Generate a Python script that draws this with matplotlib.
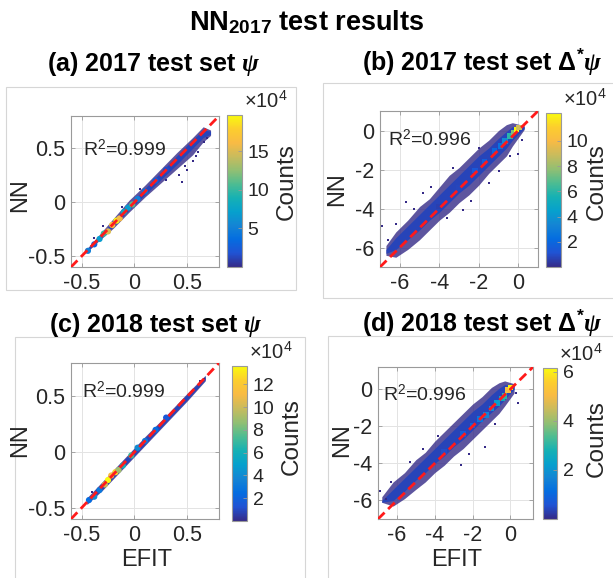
import matplotlib
matplotlib.use("Agg")
import matplotlib.pyplot as plt
from matplotlib.cm import ScalarMappable
from matplotlib.colors import LinearSegmentedColormap, Normalize
from matplotlib.patches import Rectangle

plt.rcParams.update({
    "font.family": ["Liberation Sans", "DejaVu Sans"],
    "mathtext.fontset": "custom",
    "mathtext.rm": "Liberation Sans",
    "mathtext.it": "Liberation Serif:italic:bold",
    "mathtext.bf": "Liberation Sans:bold",
    "axes.unicode_minus": False,
})

# parula-like colormap
PARULA = [
    (0.2081, 0.1663, 0.5292), (0.1253, 0.3242, 0.8303), (0.0165, 0.4266, 0.8786),
    (0.0793, 0.5200, 0.8312), (0.0239, 0.6287, 0.8038), (0.0843, 0.6928, 0.7062),
    (0.3022, 0.7376, 0.5712), (0.5709, 0.7485, 0.4494), (0.7858, 0.7356, 0.3633),
    (0.9739, 0.7314, 0.2666), (0.9880, 0.8066, 0.1794), (0.9763, 0.9831, 0.0538),
]
parula = LinearSegmentedColormap.from_list("parula", PARULA)

# ---- (a) 2017 test set psi ----
a_efit = [-0.46, -0.35, -0.2, -0.05, 0.1, 0.25, 0.4, 0.55, 0.65, 0.72]
a_hi = [-0.44, -0.32, -0.15, 0.02, 0.16, 0.31, 0.46, 0.60, 0.70, 0.67]
a_lo = [-0.47, -0.37, -0.24, -0.09, 0.05, 0.18, 0.31, 0.44, 0.56, 0.62]
a_in_hi = [-0.45, -0.33, -0.18, -0.02, 0.13, 0.28, 0.43, 0.58, 0.67, 0.66]
a_in_lo = [-0.47, -0.36, -0.22, -0.07, 0.07, 0.21, 0.35, 0.50, 0.60, 0.63]
a_bin_x = [-0.44, -0.38, -0.33, -0.29, -0.25, -0.21, -0.17, -0.14, -0.1, -0.06, -0.02, 0.03, 0.1, 0.2, 0.3]
a_bin_y = [-0.45, -0.39, -0.34, -0.29, -0.27, -0.21, -0.17, -0.15, -0.09, -0.05, -0.02, 0.03, 0.1, 0.2, 0.3]
a_bin_c = [5, 3, 7, 10, 15, 17, 19.6, 16, 8, 7, 11, 5, 4, 2.5, 1.5]
a_out_x = [0.42, 0.45, 0.5, 0.55, 0.6, 0.66, -0.3, -0.38, 0.3, 0.48, 0.58, 0.69, -0.12, 0.05]
a_out_y = [0.25, 0.19, 0.3, 0.38, 0.47, 0.56, -0.22, -0.33, 0.21, 0.34, 0.43, 0.6, -0.04, 0.12]
a_r2 = "0.999"
a_cmax = 19.7
a_cticks = [5, 10, 15]

# ---- (b) 2017 test set Delta* psi ----
b_efit = [-6.7, -6.2, -5.6, -5.0, -4.5, -4.0, -3.5, -3.0, -2.5, -2.0, -1.5, -1.0, -0.6, -0.3, 0.3]
b_hi = [-5.9, -5.2, -4.6, -3.9, -3.5, -2.9, -2.3, -1.9, -1.4, -0.9, -0.5, 0.0, 0.3, 0.4, 0.25]
b_lo = [-6.4, -6.5, -6.1, -5.6, -5.1, -4.6, -4.2, -3.7, -3.3, -2.8, -2.2, -1.7, -1.3, -0.8, 0.05]
b_in_hi = [-6.1, -5.5, -4.9, -4.3, -3.8, -3.3, -2.8, -2.3, -1.8, -1.3, -0.9, -0.4, -0.05, 0.2, 0.2]
b_in_lo = [-6.3, -6.1, -5.6, -5.1, -4.6, -4.2, -3.7, -3.2, -2.8, -2.3, -1.8, -1.3, -0.9, -0.5, 0.1]
b_bin_x = [-4.0, -3.0, -2.2, -1.7, -1.2, -0.9, -0.68, -0.43, -0.25, -0.08, 0.05]
b_bin_y = [-3.9, -2.95, -2.05, -1.6, -1.05, -0.8, -0.55, -0.29, -0.1, 0.05, 0.15]
b_bin_c = [0.6, 0.8, 1.3, 1.6, 2.0, 2.5, 3.5, 6.0, 7.5, 12.2, 9.0]
b_out_x = [-6.9, -5.7, -4.8, -2.8, -1.5, 0.0, -6.6, -4.4, -2.4, -0.4, -6.2, -5.3, -3.6, -3.3, -1.0, 0.2, -2.0]
b_out_y = [-4.9, -3.66, -3.2, -4.1, -2.7, -1.2, -5.6, -2.9, -3.6, -1.3, -4.8, -4.0, -4.5, -1.9, -2.1, -0.5, -0.9]
b_r2 = "0.996"
b_cmax = 12.2
b_cticks = [2, 4, 6, 8, 10]

# ---- (c) 2018 test set psi ----
c_efit = [-0.45, -0.3, -0.1, 0.1, 0.3, 0.5, 0.67]
c_hi = [-0.41, -0.26, -0.06, 0.14, 0.33, 0.53, 0.69]
c_lo = [-0.47, -0.34, -0.14, 0.06, 0.26, 0.46, 0.64]
c_in_hi = [-0.42, -0.27, -0.07, 0.13, 0.32, 0.52, 0.68]
c_in_lo = [-0.46, -0.33, -0.13, 0.07, 0.27, 0.47, 0.65]
c_bin_x = [-0.43, -0.38, -0.33, -0.28, -0.25, -0.22, -0.18, -0.15, -0.11, -0.03, 0.03, 0.1, 0.2, 0.3]
c_bin_y = [-0.43, -0.4, -0.34, -0.29, -0.25, -0.21, -0.18, -0.16, -0.12, -0.03, 0.04, 0.1, 0.2, 0.31]
c_bin_c = [2.5, 4, 3, 10, 13.6, 11, 12.5, 9, 6, 7, 4, 3, 2.5, 1.5]
c_out_x = [-0.4, 0.62, 0.66]
c_out_y = [-0.36, 0.64, 0.66]
c_r2 = "0.999"
c_cmax = 13.6
c_cticks = [2, 4, 6, 8, 10, 12]

# ---- (d) 2018 test set Delta* psi ----
d_efit = [-6.8, -6.2, -5.6, -5.0, -4.5, -4.0, -3.5, -3.0, -2.5, -2.0, -1.5, -1.0, -0.6, -0.3, 0.2]
d_hi = [-5.8, -5.0, -4.5, -3.8, -3.4, -2.8, -2.3, -1.8, -1.3, -0.8, -0.4, 0.1, 0.35, 0.45, 0.3]
d_lo = [-6.1, -6.3, -5.9, -5.4, -5.0, -4.5, -4.1, -3.6, -3.2, -2.7, -2.2, -1.7, -1.3, -0.9, -0.2]
d_in_hi = [-6.0, -5.4, -4.8, -4.2, -3.7, -3.2, -2.7, -2.2, -1.7, -1.2, -0.8, -0.3, 0.05, 0.25, 0.2]
d_in_lo = [-6.1, -6.0, -5.5, -4.9, -4.5, -4.0, -3.6, -3.1, -2.7, -2.2, -1.7, -1.25, -0.9, -0.55, 0.0]
d_bin_x = [-3.5, -2.5, -2.0, -1.6, -1.3, -1.0, -0.7, -0.45, -0.3, -0.12, 0.0]
d_bin_y = [-3.4, -2.4, -1.95, -1.6, -1.4, -1.05, -0.75, -0.5, -0.35, -0.04, 0.1]
d_bin_c = [0.5, 0.8, 1.0, 1.3, 1.6, 1.8, 2.2, 2.6, 3.0, 5.0, 6.15]
d_out_x = [-6.9, -6.3, -2.6, -1.35, 0.4, -5.3, -3.8, -6.6, -4.6, -2.2, -0.8, 0.3]
d_out_y = [-5.5, -5.0, -4.1, -3.1, -0.75, -3.9, -2.5, -5.9, -3.2, -3.5, -1.9, -0.2]
d_r2 = "0.996"
d_cmax = 6.15
d_cticks = [2, 4, 6]

psi_ticks = [-0.5, 0, 0.5]
psi_ticklabels = ["-0.5", "0", "0.5"]
dpsi_ticks = [-6, -4, -2, 0]
dpsi_ticklabels = ["-6", "-4", "-2", "0"]

W, H = 613, 578


def box(left, top, right, bottom):
    return [left / W, 1 - bottom / H, (right - left) / W, (bottom - top) / H]


def at(x, y):
    return x / W, 1 - y / H


panels = [
    dict(efit=a_efit, hi=a_hi, lo=a_lo, in_hi=a_in_hi, in_lo=a_in_lo,
         bx=a_bin_x, by=a_bin_y, bc=a_bin_c, ox=a_out_x, oy=a_out_y,
         r2=a_r2, cmax=a_cmax, cticks=a_cticks, lims=(-0.6, 0.8),
         ticks=psi_ticks, labels=psi_ticklabels, marker="o", ms=20,
         title=r"(a) 2017 test set $\psi$", title_xy=(154, 71),
         ax=box(71, 116, 219, 267), cax=box(227, 115, 242, 267),
         r2_xy=(0.08, 0.775), ylab=(20, 195), clab=(287, 182), xlab=None,
         frame=(6, 87, 296, 290)),
    dict(efit=b_efit, hi=b_hi, lo=b_lo, in_hi=b_in_hi, in_lo=b_in_lo,
         bx=b_bin_x, by=b_bin_y, bc=b_bin_c, ox=b_out_x, oy=b_out_y,
         r2=b_r2, cmax=b_cmax, cticks=b_cticks, lims=(-7, 1),
         ticks=dpsi_ticks, labels=dpsi_ticklabels, marker="s", ms=16,
         title=r"(b) 2017 test set $\mathbf{\Delta^{*}}\psi$", title_xy=(482, 71),
         ax=box(380, 111, 538, 267), cax=box(546, 113, 561, 267),
         r2_xy=(0.05, 0.82), ylab=(337, 189), clab=(597, 182), xlab=None,
         frame=(323, 83, 640, 298)),
    dict(efit=c_efit, hi=c_hi, lo=c_lo, in_hi=c_in_hi, in_lo=c_in_lo,
         bx=c_bin_x, by=c_bin_y, bc=c_bin_c, ox=c_out_x, oy=c_out_y,
         r2=c_r2, cmax=c_cmax, cticks=c_cticks, lims=(-0.6, 0.8),
         ticks=psi_ticks, labels=psi_ticklabels, marker="o", ms=20,
         title=r"(c) 2018 test set $\psi$", title_xy=(156, 332),
         ax=box(71, 363, 219, 519), cax=box(232, 366, 247, 521),
         r2_xy=(0.074, 0.82), ylab=(20, 440), clab=(292, 437), xlab=(147, 566),
         frame=(15, 337, 305, 600)),
    dict(efit=d_efit, hi=d_hi, lo=d_lo, in_hi=d_in_hi, in_lo=d_in_lo,
         bx=d_bin_x, by=d_bin_y, bc=d_bin_c, ox=d_out_x, oy=d_out_y,
         r2=d_r2, cmax=d_cmax, cticks=d_cticks, lims=(-7, 1.2),
         ticks=dpsi_ticks, labels=dpsi_ticklabels, marker="s", ms=16,
         title=r"(d) 2018 test set $\mathbf{\Delta^{*}}\psi$", title_xy=(482, 332),
         ax=box(378, 367, 533, 519), cax=box(543, 368, 557, 519),
         r2_xy=(0.03, 0.817), ylab=(342, 440), clab=(597, 439), xlab=(457, 566),
         frame=(328, 336, 640, 600)),
]

EDGE = "#9a9a9a"
TXT = "#262626"

fig = plt.figure(figsize=(W / 100, H / 100), dpi=100)

fig.text(*at(W / 2, 30), r"NN$_{\mathbf{2017}}$ test results", ha="center",
         va="baseline", fontsize=19.5, fontweight="bold")

for p in panels:
    l, t, r, b = p["frame"]
    fig.add_artist(Rectangle((l / W, 1 - b / H), (r - l) / W, (b - t) / H,
                             transform=fig.transFigure, fill=False,
                             edgecolor="#d6d6d6", lw=0.8))

    ax = fig.add_axes(p["ax"])
    cax = fig.add_axes(p["cax"])
    norm = Normalize(0, p["cmax"])
    navy = parula(0.0)
    core = parula(0.06)

    # sparse outer cloud, dense core, isolated points, then the busiest bins
    ax.fill_between(p["efit"], p["lo"], p["hi"], color=navy, alpha=0.8, lw=0, zorder=2)
    ax.fill_between(p["efit"], p["in_lo"], p["in_hi"], color=core, lw=0, zorder=2)
    ax.scatter(p["ox"], p["oy"], s=2, marker="s", color=navy, lw=0, zorder=2)
    ax.scatter(p["bx"], p["by"], c=p["bc"], cmap=parula, norm=norm,
               s=p["ms"], marker=p["marker"], lw=0, zorder=3)
    ax.axline((0, 0), slope=1, color="#ff1a1a", lw=2.0, dashes=(3.3, 1.8), zorder=4)

    ax.set_xlim(p["lims"])
    ax.set_ylim(p["lims"])
    ax.set_xticks(p["ticks"], p["labels"])
    ax.set_yticks(p["ticks"], p["labels"])
    ax.grid(True, color="#e3e3e3", lw=0.7)
    ax.set_axisbelow(True)
    ax.tick_params(direction="in", length=3, width=0.6, color=EDGE,
                   labelsize=15.5, labelcolor=TXT, pad=4, top=True, right=True)
    for s in ax.spines.values():
        s.set_edgecolor(EDGE)
        s.set_linewidth(0.8)

    ax.text(*p["r2_xy"], r"R$^2$=" + p["r2"], transform=ax.transAxes,
            fontsize=14, color=TXT, va="center", ha="left", zorder=5)

    cb = fig.colorbar(ScalarMappable(norm=norm, cmap=parula), cax=cax)
    cb.set_ticks(p["cticks"])
    cb.outline.set_edgecolor(EDGE)
    cb.outline.set_linewidth(0.8)
    cax.tick_params(direction="in", length=3, width=0.6, color=EDGE,
                    labelsize=14, labelcolor=TXT, pad=4)
    cax.text(1.15, 1.02, r"$\times10^4$", transform=cax.transAxes,
             fontsize=14.5, color=TXT, ha="left", va="bottom")

    fig.text(*at(*p["ylab"]), "NN", rotation=90, ha="center", va="center",
             fontsize=17, color=TXT)
    fig.text(*at(*p["clab"]), "Counts", rotation=90, ha="center", va="center",
             fontsize=17.5, color=TXT)
    if p["xlab"]:
        fig.text(*at(*p["xlab"]), "EFIT", ha="center", va="baseline",
                 fontsize=17, color=TXT)

    fig.text(*at(*p["title_xy"]), p["title"], ha="center", va="baseline",
             fontsize=18, fontweight="bold")

fig.savefig("out.png", dpi=100)
